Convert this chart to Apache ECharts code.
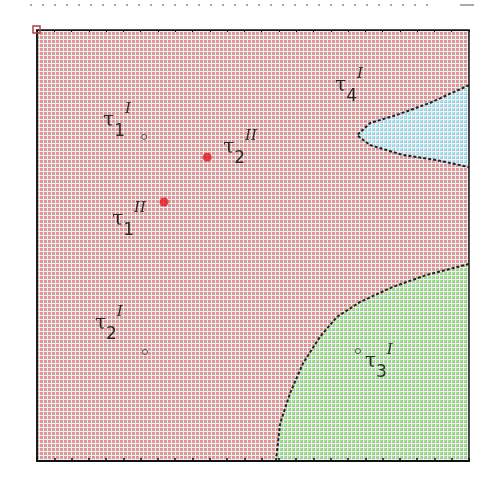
<!DOCTYPE html>
<html><head><meta charset="utf-8">
<script src="https://cdn.jsdelivr.net/npm/echarts@6/dist/echarts.min.js"></script>
<style>html,body{margin:0;padding:0;background:#fff}#c{width:489px;height:490px}</style>
</head><body><div id="c"></div>
<script>
// ---- data ----
const xRange = [0, 100];
const yRange = [0, 100];
const tickInterval = 4;
// type-I sites (open circles)
const sitesI = [[24.8, 75.2], [25.0, 25.3], [74.3, 25.5]];
// type-II sites (red dots)
const sitesII = [[29.4, 60.1], [39.4, 70.5]];
// boundary of the blue region (right-hand wedge)
const blueBoundary = [[100, 87.2], [91.0, 83.1], [83.3, 80.3], [77.1, 78.4], [74.1, 75.6], [77.1, 73.3], [84.7, 71.0], [92.6, 69.8], [100, 68.2]];
// boundary of the green region (bottom right)
const greenBoundary = [[100, 45.7], [90.3, 43.2], [82.4, 40.4], [74.8, 36.9], [69.4, 33.4], [65.5, 28.8], [61.6, 22.7], [58.6, 15.8], [56.3, 8.8], [55.3, 0]];
// labels: anchor, subscript, superscript
const labelAnchors = [[15.3, 78.9], [43.1, 72.6], [17.4, 55.9], [13.4, 31.8], [75.9, 23.0], [69.0, 87.0]];
const labelSubs = ['1', '2', '1', '2', '3', '4'];
const labelSups = ['I', 'II', 'II', 'I', 'I', 'I'];

// ---- textures ----
function tile(cell, gray, white) {
  const c = document.createElement('canvas'); c.width = 4; c.height = 4;
  const g = c.getContext('2d');
  for (let i = 0; i < 4; i++) for (let j = 0; j < 4; j++) {
    let col;
    if (i < 2 && j < 2) col = cell; else if (i === 3 || j === 3) col = white; else col = gray;
    g.fillStyle = col; g.fillRect(i, j, 1, 1);
  }
  return { image: c, repeat: 'repeat' };
}
const pinkPat = tile('#ec8e8e', '#c0a8a8', '#f6ecec');
const bluePat = tile('#aee6f6', '#aec6cc', '#e8f8fc');
const greenPat = tile('#a0e48c', '#a8bea6', '#e6f8e2');

const chart = echarts.init(document.getElementById('c'), null, { renderer: 'canvas' });

function polyRender(points, closeCorner, fill) {
  return function (params, api) {
    if (params.dataIndex !== 0) return null;
    const pts = points.map(p => api.coord(p));
    const cs = params.coordSys;
    if (closeCorner) pts.push([cs.x + cs.width, cs.y + cs.height]);
    return { type: 'polygon', shape: { points: pts }, style: { fill: fill } };
  };
}

const richStyle = {
  t: { fontFamily: 'DejaVu Serif', fontSize: 20, color: '#000', lineHeight: 38, verticalAlign: 'middle' },
  sub: { fontFamily: 'DejaVu Sans', fontSize: 17, color: '#000', lineHeight: 18, verticalAlign: 'bottom' },
  sup: { fontFamily: 'DejaVu Serif', fontSize: 15, color: '#000', lineHeight: 16, verticalAlign: 'top', fontStyle: 'italic' }
};

chart.setOption({
  animation: false,
  grid: { left: 37, top: 30, width: 432, height: 431, show: true, borderColor: '#111', borderWidth: 1.5, backgroundColor: 'transparent', z: 10 },
  xAxis: [{
    type: 'value', min: xRange[0], max: xRange[1], interval: tickInterval, z: 10,
    axisLine: { show: true, lineStyle: { color: '#111', width: 2 } },
    axisTick: { show: true, inside: true, length: 3, lineStyle: { color: '#111', width: 1.5 } },
    axisLabel: { show: false }, splitLine: { show: false }
  }, {
    type: 'value', position: 'top', min: xRange[0], max: xRange[1], interval: tickInterval, z: 10,
    axisLine: { show: true, lineStyle: { color: '#111', width: 1 } },
    axisTick: { show: true, inside: true, length: 2, lineStyle: { color: '#111' } },
    axisLabel: { show: false }, splitLine: { show: false }
  }],
  yAxis: {
    type: 'value', min: yRange[0], max: yRange[1], z: 10,
    axisLine: { show: true, lineStyle: { color: '#111', width: 1.5 } },
    axisTick: { show: false }, axisLabel: { show: false }, splitLine: { show: false }
  },
  series: [
    {
      type: 'custom', silent: true, z: 1,
      data: [[xRange[0], yRange[0]]],
      renderItem: function (params, api) {
        const cs = params.coordSys;
        return { type: 'rect', shape: { x: cs.x, y: cs.y, width: cs.width, height: cs.height }, style: { fill: pinkPat } };
      }
    },
    { type: 'custom', silent: true, z: 2, data: blueBoundary, renderItem: polyRender(blueBoundary, false, bluePat) },
    { type: 'custom', silent: true, z: 2, data: greenBoundary, renderItem: polyRender(greenBoundary, true, greenPat) },
    { type: 'line', data: blueBoundary, symbol: 'none', z: 3, lineStyle: { color: '#222', width: 2, type: [3, 2] } },
    { type: 'line', data: greenBoundary, symbol: 'none', z: 3, lineStyle: { color: '#222', width: 2, type: [3, 2] } },
    {
      type: 'scatter', data: sitesI, symbol: 'circle', symbolSize: 5, z: 4,
      itemStyle: { color: 'rgba(255,255,255,0.4)', borderColor: '#333', borderWidth: 1 }
    },
    {
      type: 'scatter', data: sitesII, symbol: 'circle', symbolSize: 9, z: 4,
      itemStyle: { color: '#e8141e' }
    },
    {
      type: 'scatter', symbol: 'circle', symbolSize: 1, z: 5,
      itemStyle: { color: 'rgba(0,0,0,0)' },
      data: labelAnchors.map((p, i) => ({ value: p, sub: labelSubs[i], sup: labelSups[i] })),
      label: {
        show: true, position: 'inside', align: 'left', verticalAlign: 'middle',
        formatter: function (p) { return '{t|τ}{sub|' + p.data.sub + '}{sup|' + p.data.sup + '}'; },
        rich: richStyle
      }
    }
  ],
  graphic: [
    { type: 'line', shape: { x1: 30, y1: 5, x2: 432, y2: 5 }, style: { stroke: '#aaa', lineWidth: 2, lineDash: [2, 10] } },
    { type: 'line', shape: { x1: 460, y1: 5, x2: 474, y2: 5 }, style: { stroke: '#aaa', lineWidth: 2 } },
    { type: 'rect', shape: { x: 33, y: 26, width: 7, height: 7 }, style: { fill: 'none', stroke: '#b04040', lineWidth: 1.5 }, z: 100 }
  ]
});
</script></body></html>
